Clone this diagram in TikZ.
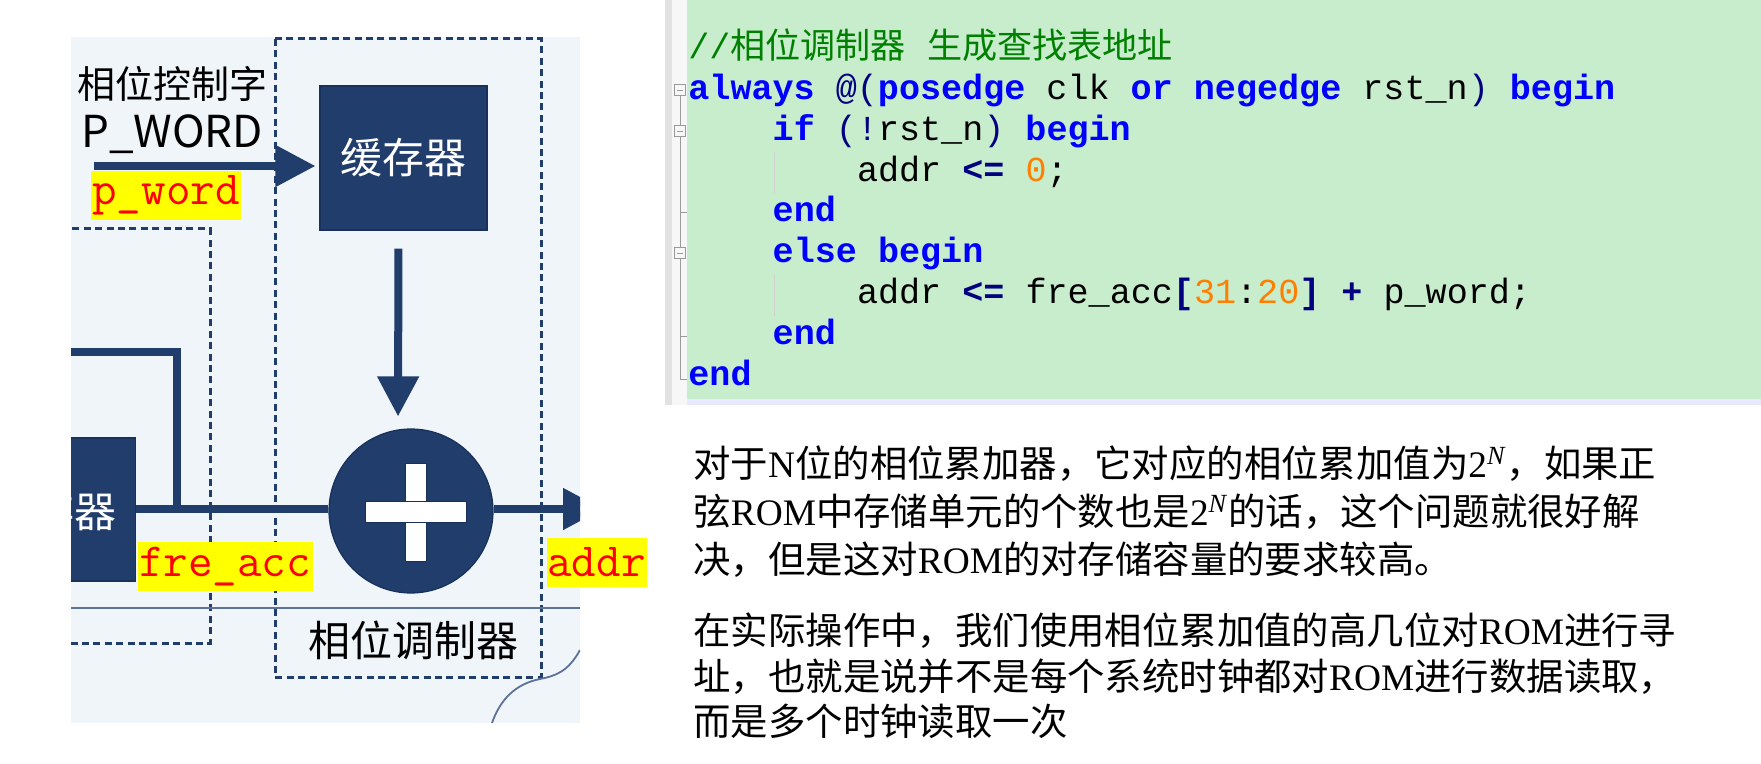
\documentclass[tikz,border=0pt]{standalone}
\usepackage{fontspec}
\setmainfont{Liberation Serif}
\newfontfamily\cjk{Noto Sans CJK SC}
\newfontfamily\codefont{Liberation Mono}
\usetikzlibrary{arrows.meta}
\definecolor{navy}{HTML}{203D6B}
\definecolor{navydark}{HTML}{18305A}
\definecolor{panelbg}{HTML}{F0F5FA}
\definecolor{sepline}{HTML}{5B7396}
\definecolor{sigyellow}{HTML}{FFFF00}
\definecolor{codegreen}{HTML}{C7EDCC}
\definecolor{lavender}{HTML}{E8E8FF}
\definecolor{gutterA}{HTML}{E2E2E2}
\definecolor{gutterB}{HTML}{F7F7F7}
\definecolor{foldgrey}{HTML}{9A9A9A}
\definecolor{kwblue}{HTML}{0000FF}
\definecolor{opnavy}{HTML}{000080}
\definecolor{numorange}{HTML}{FF8000}
\definecolor{cmtgreen}{HTML}{008000}
\newcommand\kw[1]{\textcolor{kwblue}{\bfseries #1}}
\newcommand\opb[1]{\textcolor{opnavy}{\bfseries #1}}
\newcommand\opr[1]{\textcolor{opnavy}{#1}}
\newcommand\nm[1]{\textcolor{numorange}{#1}}
\newcommand\sqN{2\textsuperscript{\textit{N}}}
\begin{document}
\begin{tikzpicture}[x=0.5pt,y=-0.5pt,
  bus/.style={draw=navy,line width=4pt},
  arr/.style={-{Triangle[length=20pt,width=20pt]}},
  navybox/.style={fill=navy,draw=navydark,line width=0.6pt,text=white,font=\cjk\fontsize{21}{24}\selectfont,inner sep=0},
  dashbox/.style={draw=navy,line width=1.5pt,dash pattern=on 3.5pt off 2.2pt},
  sig/.style={fill=sigyellow,text=red,font=\ttfamily\fontsize{23.8}{26}\selectfont,inner xsep=0,inner ysep=0,minimum height=24.5pt},
  lbl/.style={font=\cjk\fontsize{19}{22}\selectfont,inner sep=0},
  code/.style={anchor=base west,inner sep=0,font=\codefont\fontsize{17.55}{20}\selectfont},
  para/.style={anchor=base west,inner sep=0,font=\fontsize{18.7}{22}\selectfont},
  fold/.style={draw=foldgrey,line width=0.5pt}
]
\useasboundingbox (0,0) rectangle (1761,764);
\fill[white] (0,0) rectangle (1761,764);

% ---------------- left panel ----------------
\fill[panelbg] (71,37) rectangle (580,723);
\begin{scope}
\clip (71,37) rectangle (580,723);
\draw[dashbox] (275,39) rectangle (541,677);
\draw[dashbox] (40,229) rectangle (210,643);
\draw[sepline,line width=1.1pt] (71,608) -- (580,608);
\draw[sepline,line width=0.9pt] (580,650) .. controls (568,672) and (555,676) .. (540,679) .. controls (515,684) and (500,700) .. (492,723);

\node[navybox,minimum width=83.5pt,minimum height=72pt] (buf) at (403.5,158) {缓存器};
\node[navybox,minimum width=60pt,minimum height=71.5pt,anchor=east] (reg) at (136,509.5) {};
\node[anchor=east,inner sep=0,text=white,font=\cjk\fontsize{21}{24}\selectfont] (regtxt) at (117,511) {寄存器};
\node[circle,fill=navy,draw=navydark,line width=0.6pt,minimum size=82pt,inner sep=0] (add) at (411,511) {};
\fill[white,draw=navydark,line width=0.4pt] (405,463) rectangle (426,561);
\fill[white,draw=navydark,line width=0.4pt] (365,501) rectangle (466,522);
\fill[white] (405.5,501.5) rectangle (425.5,521.5);

\coordinate (pin) at (94,166);
\coordinate (loopL) at (40,352);
\coordinate (tap) at (177,509);
\coordinate (out) at (603,509);
\draw[bus,arr,shorten >=2pt] (pin) -- (pin -| buf.west);
\draw[bus,arr,shorten <=9pt,shorten >=6pt] ([xshift=-2.5pt]buf.south) -- ([xshift=-6.5pt]add.north);
\draw[bus] (reg.east |- tap) -- (tap -| add.west);
\draw[bus,line join=miter] (loopL) -| (tap);
\draw[bus,arr] (tap -| add.east) -- (out);
\end{scope}

\node[lbl,anchor=center] (ctrl) at (172,84) {相位控制字};
\node[inner sep=0,anchor=base west,font=\cjk\fontsize{22}{26}\selectfont] (pw) at (81,148) {P\_WORD};
\node[sig,minimum width=75pt] (lpw) at (166,195.5) {p\_word};
\node[sig,minimum width=87.5pt] (lfa) at (225,566.5) {fre\_acc};
\node[sig,minimum width=50pt] (lad) at (596.5,562) {addr};
\node[font=\cjk\fontsize{21}{24}\selectfont,inner sep=0] (modl) at (413,640) {相位调制器};

% ---------------- code panel ----------------
\fill[gutterA] (665,0) rectangle (672,405);
\fill[gutterB] (672,0) rectangle (687,405);
\fill[codegreen] (687,0) rectangle (1761,399);
\fill[lavender] (687,399) rectangle (1761,405);

\draw[fold] (680,96) -- (680,380) -- (687,380);
\draw[fold] (680,213) -- (687,213);
\draw[fold] (680,337) -- (687,337);
\foreach \yy in {90.5,131.5,253.5}{
  \draw[fold,fill=gutterB] (674.5,\yy-5.5) rectangle (685.5,\yy+5.5);
  \draw[fold] (677,\yy) -- (683,\yy);
}
\draw[draw=black!18,line width=0.5pt] (774,152) -- (774,193);
\draw[draw=black!18,line width=0.5pt] (774,275) -- (774,316);

\node[code] (c0) at (688,58.8) {\textcolor{cmtgreen}{//{\cjk 相位调制器} {\cjk 生成查找表地址}}};
\node[code] (c1) at (688,99.6) {\kw{always} \opr{@(}\kw{posedge} clk \kw{or} \kw{negedge} rst\_n\opr{)} \kw{begin}};
\node[code] (c2) at (772.3,140.4) {\kw{if} \opr{(!}rst\_n\opr{)} \kw{begin}};
\node[code] (c3) at (856.6,181.2) {addr \opb{<=} \nm{0};};
\node[code] (c4) at (772.3,222) {\kw{end}};
\node[code] (c5) at (772.3,262.8) {\kw{else} \kw{begin}};
\node[code] (c6) at (856.6,303.6) {addr \opb{<=} fre\_acc\opb{[}\nm{31}:\nm{20}\opb{]} \opb{+} p\_word;};
\node[code] (c7) at (772.3,344.4) {\kw{end}};
\node[code] (c8) at (688,385.2) {\kw{end}};

% ---------------- paragraph ----------------
\node[para] (p1) at (693,477) {{\cjk 对于}N{\cjk 位的相位累加器，它对应的相位累加值为}\sqN{\cjk ，如果正}};
\node[para] (p2) at (693,525) {{\cjk 弦}ROM{\cjk 中存储单元的个数也是}\sqN{\cjk 的话，这个问题就很好解}};
\node[para] (p3) at (693,573) {{\cjk 决，但是这对}ROM{\cjk 的对存储容量的要求较高。}};
\node[para] (p4) at (693,644) {{\cjk 在实际操作中，我们使用相位累加值的高几位对}ROM{\cjk 进行寻}};
\node[para] (p5) at (693,690) {{\cjk 址，也就是说并不是每个系统时钟都对}ROM{\cjk 进行数据读取，}};
\node[para] (p6) at (693,735) {{\cjk 而是多个时钟读取一次}};
\end{tikzpicture}
\end{document}
